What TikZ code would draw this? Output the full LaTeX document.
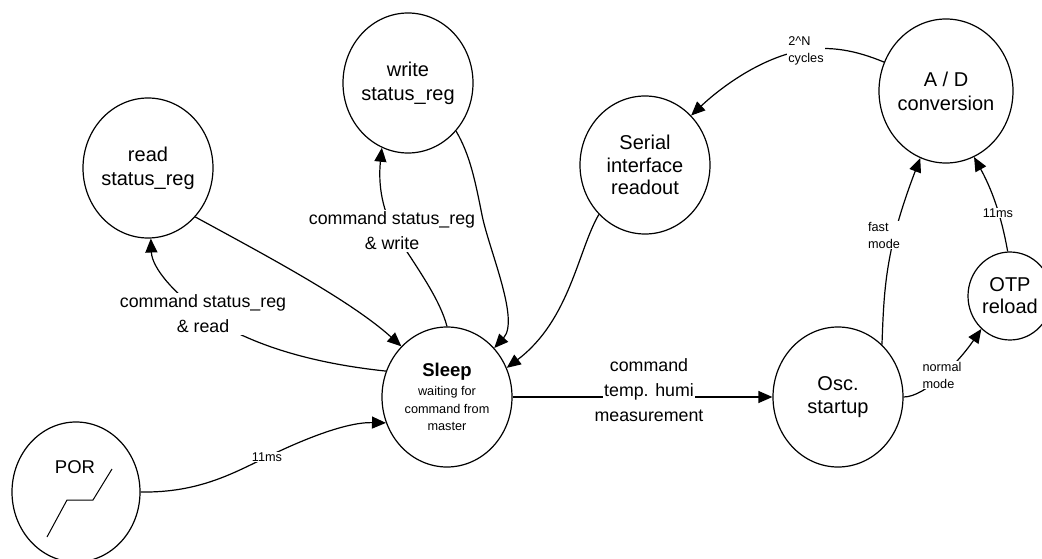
\documentclass[tikz,border=0pt]{standalone}
\usepackage{fontspec}
\setmainfont{Liberation Sans}
\usetikzlibrary{shapes.geometric,arrows.meta}
\newcommand{\ctr}[2][160pt]{\makebox[0pt]{\parbox{#1}{\centering #2}}}
\begin{document}
\begin{tikzpicture}[x=1pt,y=-1pt,
  state/.style={draw, ellipse, line width=1.2pt, inner sep=0pt,
    minimum width=130pt, minimum height=140pt,
    font=\fontsize{20}{24}\selectfont},
  lab/.style={font=\fontsize{17.8}{25}\selectfont, align=center, fill=white, inner sep=1.5pt},
  slab/.style={font=\fontsize{12.7}{17}\selectfont, align=left, fill=white, inner sep=1pt},
  arr/.style={line width=1.2pt, -{Triangle[length=14pt,width=12pt]}},
  ln/.style={line width=1pt}]
\fill[white] (0,0) rectangle (1042,559);
\useasboundingbox (0,0) rectangle (1042,559);

% states
\node[state] (read)   at (148,168) {\ctr{read\\status\_reg}};
\node[state] (write)  at (408,83)  {\ctr{write\\status\_reg}};
\node[state, minimum height=138pt, font=\fontsize{20}{22.5}\selectfont] (serial) at (645,165) {\ctr{Serial\\interface\\readout}};
\node[state, minimum width=134pt, minimum height=144pt] (ad) at (946,91) {\ctr{A / D\\conversion}};
\node[state] (sleep)  at (447,397) {\ctr{\fontsize{18.5}{22}\selectfont\bfseries Sleep\par\vspace{1.5pt}\fontsize{12.7}{17.5}\selectfont\mdseries waiting for\\command from\\master}};
\node[state, font=\fontsize{20}{23}\selectfont] (osc) at (838,397) {\ctr{Osc.\\startup}};
\node[state, minimum width=84pt, minimum height=88pt, font=\fontsize{20}{22}\selectfont] (otp) at (1010,296) {\ctr{OTP\\reload}};
\node[state, minimum width=128pt] (por) at (76,492) {};
\node[font=\fontsize{18.5}{22}\selectfont] (portext) at (75,467) {POR};
\draw[ln] (47,537) -- (67,500) -- (93,500) -- (112,469);

% connectors
\draw[arr] (read.-46) .. controls (265,255) and (350,300) .. (sleep.132);
\draw[arr] (sleep.157) .. controls (300,362) and (240,340) .. (200,311)
  .. controls (175,294) and (152,268) .. (read);
\draw[arr] (sleep.90) .. controls (440,300) and (420,272) .. (398,238)
  .. controls (382,212) and (378,185) .. (write.-112);
\draw[arr] (write.-45) .. controls (470,155) and (475,180) .. (482,215)
  .. controls (489,250) and (520,320) .. (sleep.46);
\draw[arr] (serial.-133) .. controls (578,250) and (570,320) .. (sleep.26);
\draw[arr] (por.0) .. controls (200,493) and (235,472) .. (267,457)
  .. controls (300,441) and (345,422) .. (sleep.-157);
\draw[arr] (sleep) -- (osc);
\draw[arr] (osc.50) .. controls (884,290) and (885,250) .. (ad.-111);
\draw[arr] (otp.93) .. controls (1003,225) and (995,195) .. (ad.-67);
\draw[arr] (osc.0) .. controls (925,397) and (958,363) .. (otp.-131);
\draw[arr] (ad.155) .. controls (855,50) and (830,46) .. (805,50)
  .. controls (760,57) and (718,90) .. (serial.47);

% labels
\node[lab] (lread) at (203,314) {command status\_reg\\\& read};
\node[lab] (lwrite) at (392,231) {command status\_reg\\\& write};
\node[lab, fill=none] (lmeas) at (649,390) {command\\\setlength{\fboxsep}{1.5pt}\colorbox{white}{temp. humi}\\measurement};
\node[slab] (lpor) at (267,457) {11ms};
\node[slab] (lcyc) at (806,51) {2\textasciicircum N\\cycles};
\node[slab] (lfast) at (884,235) {fast\\mode};
\node[slab] (lotp) at (998,213) {11ms};
\node[slab] (lnorm) at (942,375) {normal\\mode};
\end{tikzpicture}
\end{document}
